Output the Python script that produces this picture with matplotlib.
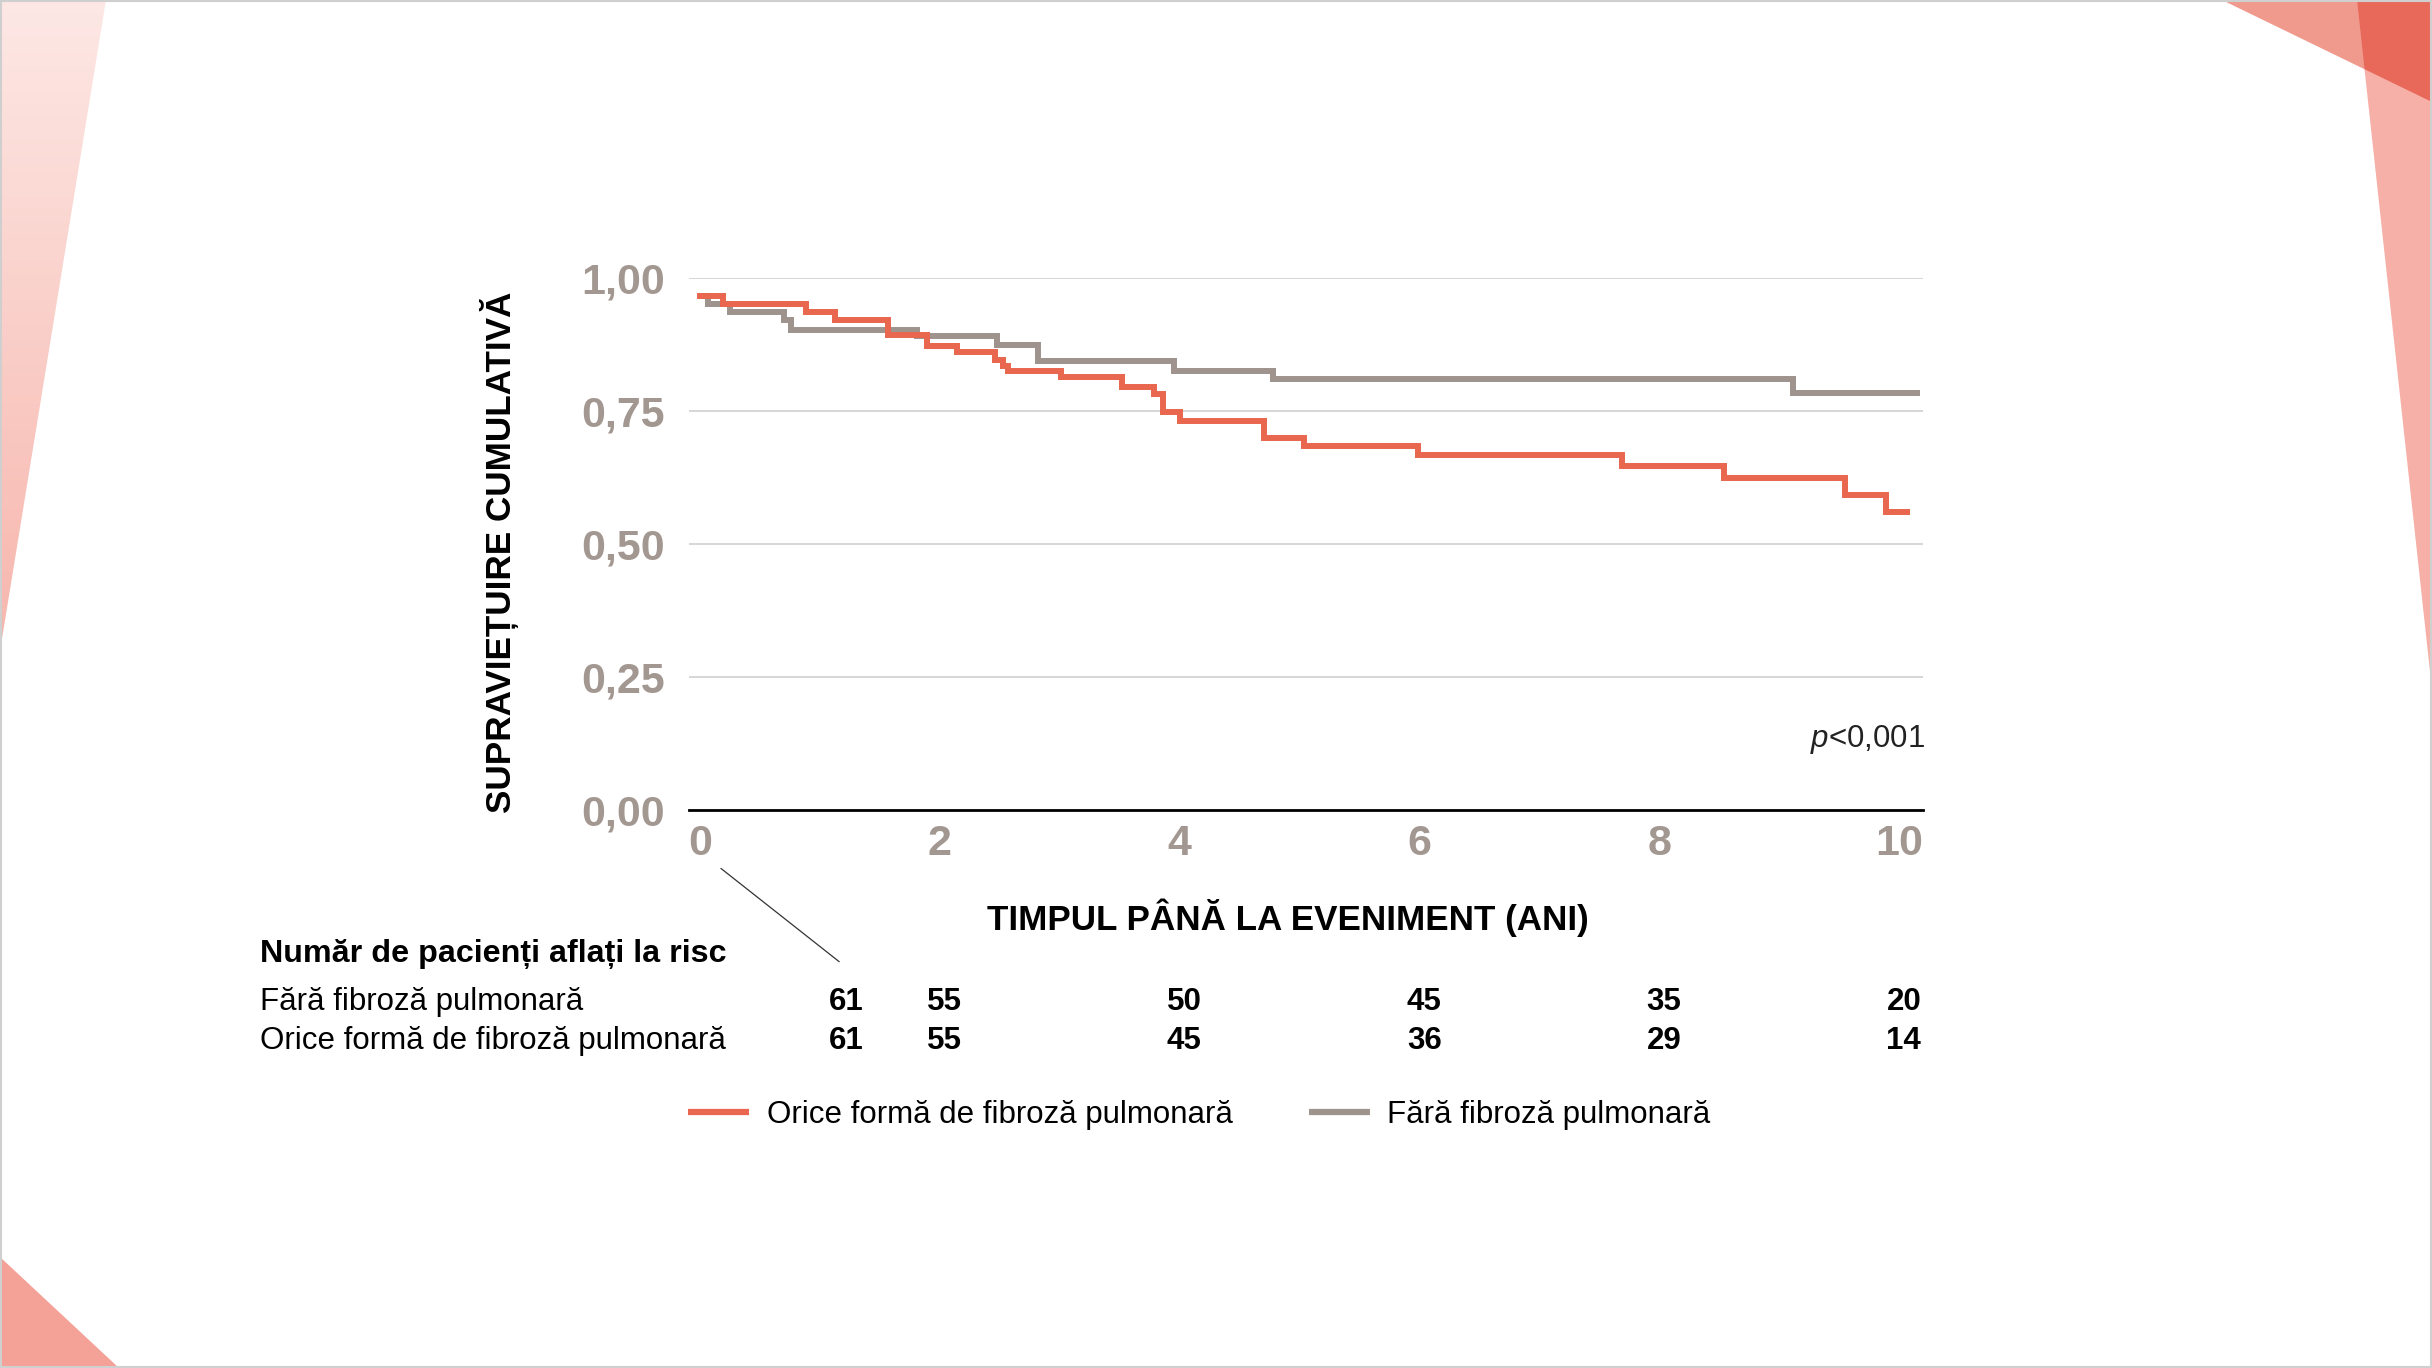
import matplotlib
matplotlib.use('Agg')
from matplotlib import pyplot as plt
from matplotlib import transforms
from matplotlib.patches import Polygon, Rectangle
from matplotlib.lines import Line2D
from matplotlib.colors import LinearSegmentedColormap
import numpy as np

plt.rcParams['font.family'] = ['Liberation Sans', 'DejaVu Sans']
plt.rcParams['mathtext.fontset'] = 'custom'
plt.rcParams['mathtext.it'] = 'Liberation Sans:italic'
plt.rcParams['mathtext.rm'] = 'Liberation Sans'

# Kaplan-Meier curves (time in years, survival)
fibroza_t = [0, 0.19, 0.88, 1.13, 1.57, 1.89, 2.14, 2.46, 2.53, 2.57, 3.01, 3.52,
             3.79, 3.86, 4.00, 4.70, 5.04, 5.99, 7.69, 8.54, 9.55, 9.89, 10.07]
fibroza_s = [0.966, 0.950, 0.936, 0.921, 0.892, 0.872, 0.861, 0.845, 0.834, 0.825,
             0.813, 0.794, 0.781, 0.748, 0.731, 0.699, 0.684, 0.666, 0.646, 0.624,
             0.592, 0.559, 0.559]
fara_t = [0, 0.07, 0.25, 0.70, 0.76, 1.81, 2.48, 2.82, 3.95, 4.78, 9.12, 10.15]
fara_s = [0.966, 0.950, 0.936, 0.921, 0.902, 0.891, 0.874, 0.843, 0.825, 0.810,
          0.784, 0.784]

x_ticks = [0, 2, 4, 6, 8, 10]
y_ticks = [0, 0.25, 0.5, 0.75, 1.0]
y_tick_labels = ['0,00', '0,25', '0,50', '0,75', '1,00']

# numbers at risk
risk_times = [0, 2, 4, 6, 8, 10]
risk_fara = [61, 55, 50, 45, 35, 20]
risk_fibroza = [61, 55, 45, 36, 29, 14]

label_fibroza = 'Orice formă de fibroză pulmonară'
label_fara = 'Fără fibroză pulmonară'

RED = '#E9664F'
GREY = '#9E948D'
TICK = '#A39891'

W, H = 2432, 1368
fig = plt.figure(figsize=(W / 100, H / 100), dpi=100)
fig.patch.set_facecolor('white')

# slide decoration, drawn in pixel units
bg = fig.add_axes([0, 0, 1, 1], zorder=-1)
tl = Polygon([(0, 0), (106, 0), (0, 651)], closed=True, fc='none', ec='none')
bg.add_patch(tl)
cmap = LinearSegmentedColormap.from_list('tl', ['#FDE8E5', '#F7B6AD'])
im = bg.imshow(np.linspace(0, 1, 256).reshape(-1, 1), cmap=cmap, aspect='auto',
               extent=(0, 106, 651, 0), origin='upper')
im.set_clip_path(tl)
bg.add_patch(Polygon([(0, 1257), (0, H), (119, H)], closed=True, fc='#F4A197', ec='none'))
bg.add_patch(Polygon([(2222, 0), (W, 0), (W, 102)], closed=True, fc='#F09A8D', ec='none'))
bg.add_patch(Polygon([(2357, 0), (W, 0), (W, 690)], closed=True, fc='#F6B0A7', ec='none'))
bg.add_patch(Polygon([(2357, 0), (W, 0), (W, 102), (2364.5, 69.2)], closed=True,
                     fc='#E8685A', ec='none'))
bg.add_patch(Rectangle((1, 1), W - 2, H - 2, fill=False, ec='#CFCFCF', lw=1.5))
bg.set_xlim(0, W)
bg.set_ylim(H, 0)
bg.axis('off')

# survival plot
ax = fig.add_axes([0.2832, 0.4079, 0.5075, 0.3891])
ax.patch.set_alpha(0)
ax.step(fara_t, fara_s, where='post', color=GREY, lw=4.3, zorder=3,
        solid_joinstyle='miter')
ax.step(fibroza_t, fibroza_s, where='post', color=RED, lw=4.3, zorder=4,
        solid_joinstyle='miter')

ax.set_xlim(-0.094, 10.2)
ax.set_ylim(0, 1.0)
ax.set_xticks(x_ticks)
ax.set_xticklabels([str(v) for v in x_ticks], fontweight='bold')
ax.set_yticks(y_ticks)
ax.set_yticklabels(y_tick_labels, fontweight='bold')
ax.tick_params(axis='both', length=0, labelsize=31, labelcolor=TICK)
ax.tick_params(axis='y', pad=17)
ax.tick_params(axis='x', pad=10)
ax.yaxis.grid(True, color='#CBCBCB', lw=1.1)
ax.set_axisbelow(True)
for side in ['top', 'right', 'left']:
    ax.spines[side].set_visible(False)
ax.spines['bottom'].set_color('black')
ax.spines['bottom'].set_linewidth(2)
ax.spines['bottom'].set_zorder(5)

fig.text(0.2054, 0.5965, 'SUPRAVIEȚUIRE CUMULATIVĂ', rotation=90, ha='center',
         va='center', fontsize=25.3, fontweight='bold')
fig.text(0.5297, 0.329, 'TIMPUL PÂNĂ LA EVENIMENT (ANI)', ha='center', va='center',
         fontsize=25.2, fontweight='bold')
fig.text(0.7915, 0.4595, r'$p$<0,001', ha='right', va='center', fontsize=22.5,
         color='#222222')

# numbers at risk table
fig.text(0.1071, 0.3026, 'Număr de pacienți aflați la risc', ha='left', va='center',
         fontsize=23.2, fontweight='bold')
fig.text(0.1071, 0.2675, label_fara, ha='left', va='center', fontsize=22.5)
fig.text(0.1071, 0.2393, label_fibroza, ha='left', va='center', fontsize=22.5)
trans = transforms.blended_transform_factory(ax.transData, fig.transFigure)
for i, t in enumerate(risk_times):
    xpos = 1.22 if t == 0 else t + 0.04
    fig.text(xpos, 0.2675, str(risk_fara[i]), transform=trans, ha='center',
             va='center', fontsize=22.5, fontweight='bold')
    fig.text(xpos, 0.2393, str(risk_fibroza[i]), transform=trans, ha='center',
             va='center', fontsize=22.5, fontweight='bold')
fig.add_artist(Line2D([0.2965, 0.345], [0.3651, 0.2971], color='#333333', lw=0.9,
                      transform=fig.transFigure))

handles = [Line2D([], [], color=RED, lw=4.5, solid_capstyle='butt'),
           Line2D([], [], color=GREY, lw=4.5, solid_capstyle='butt')]
fig.legend(handles, [label_fibroza, label_fara], loc='center left',
           bbox_to_anchor=(0.2831, 0.185), frameon=False, ncol=2, fontsize=22.5,
           handlelength=1.95, handletextpad=0.55, columnspacing=2.45, borderpad=0,
           borderaxespad=0)

fig.savefig('out.png', dpi=100)
